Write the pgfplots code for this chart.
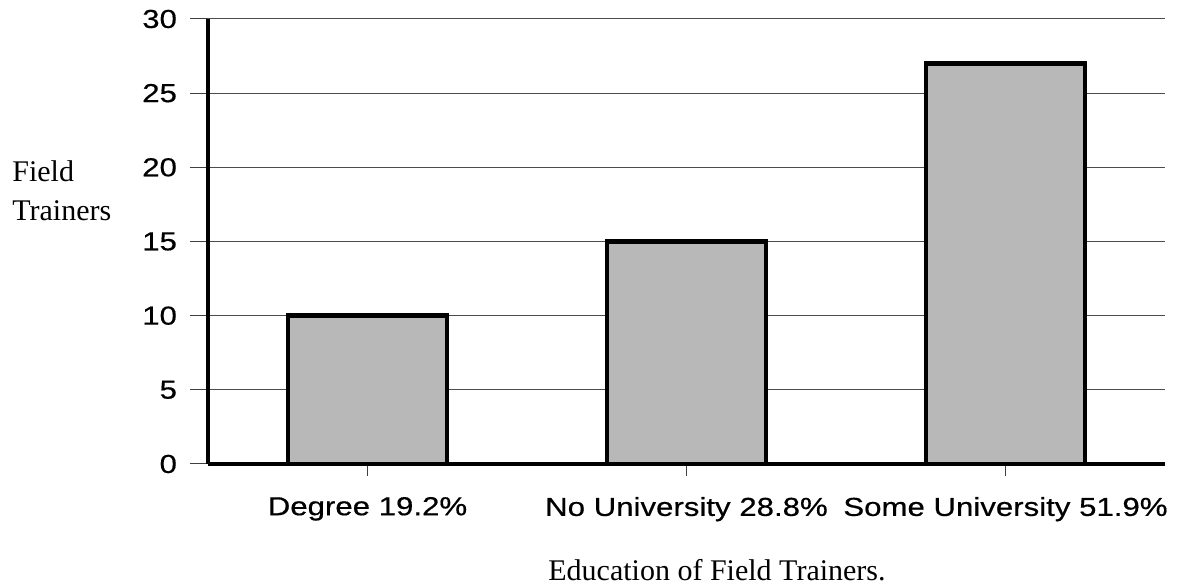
\documentclass[border=0pt]{standalone}
\usepackage{fontspec}
\setmainfont{Liberation Serif}
\newfontfamily\ticksans[FakeStretch=1.2,FakeBold=0.5]{Liberation Sans}
\usepackage{pgfplots}
\pgfplotsset{compat=1.18}
\begin{document}
\begin{tikzpicture}
\path[use as bounding box] (0,0) rectangle (592.5pt,293.5pt);
\begin{axis}[
  at={(104pt,61.5pt)}, anchor=south west,
  scale only axis, width=478.5pt, height=222.5pt,
  xmin=-0.5, xmax=2.5, ymin=0, ymax=30,
  axis lines=left,
  axis line style={line width=2.4pt, -, black},
  ytick={0,5,...,30},
  xtick={0,1,2},
  xticklabels={Degree 19.2\%, No University 28.8\%, Some University 51.9\%},
  ymajorgrids,
  grid style={black!70, line width=0.5pt},
  tick align=outside,
  major tick length=9pt,
  xtick style={/pgfplots/major tick length=6pt},
  tick style={black!75, line width=0.5pt},
  ticklabel style={font=\ticksans\fontsize{13pt}{15pt}\selectfont},
  yticklabel style={xshift=-3pt},
  xticklabel style={yshift=-4pt},
  /pgf/number format/assume math mode=true,
  ybar, bar width=0.5,
  clip=false,
]
\addplot[fill=black!28, draw=black, line width=2.2pt] coordinates {(0,10) (1,15) (2,27)};
\end{axis}
\node[anchor=west, align=left, inner sep=0pt, font=\fontsize{15pt}{19.5pt}\selectfont] at (6pt,198pt) {Field\\Trainers};
\node[anchor=base, font=\fontsize{15pt}{18pt}\selectfont] at (358.5pt,3pt) {Education of Field Trainers.};
\end{tikzpicture}
\end{document}
